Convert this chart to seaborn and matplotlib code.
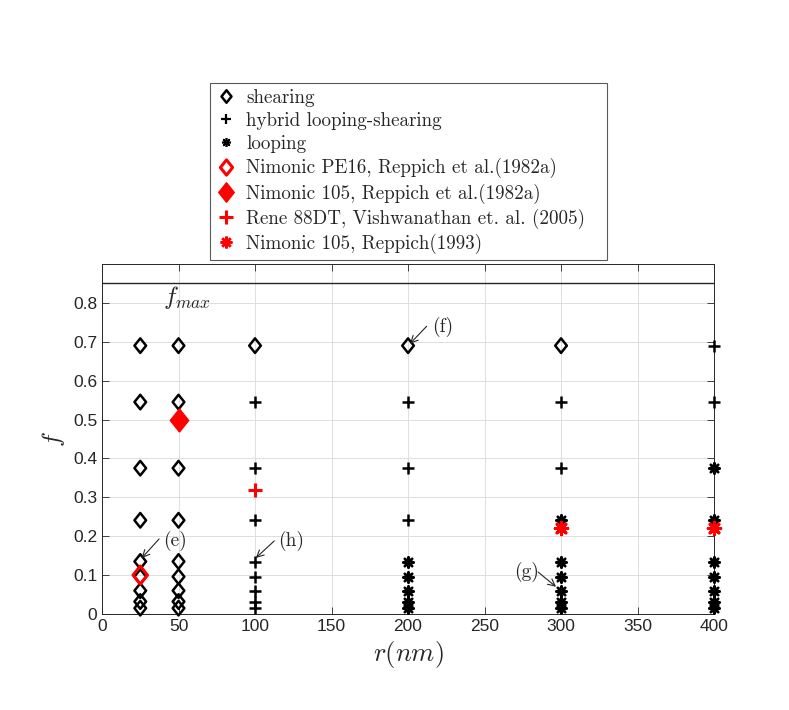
import numpy as np
import pandas as pd
import seaborn as sns
import matplotlib.pyplot as plt
from matplotlib.lines import Line2D
from matplotlib.path import Path

# f levels used in the simulations
f_levels = [0.015, 0.032, 0.06, 0.096, 0.135, 0.241, 0.375, 0.545, 0.69]

# simulation points per mechanism: (r, f)
shearing_r = [25] * 9 + [50] * 9 + [100, 200, 300]
shearing_f = f_levels + f_levels + [0.69, 0.69, 0.69]

hybrid_r = [100] * 8 + [200] * 3 + [300] * 2 + [400] * 2
hybrid_f = f_levels[:8] + [0.241, 0.375, 0.545] + [0.375, 0.545] + [0.545, 0.69]

looping_r = [200] * 5 + [300] * 6 + [400] * 7
looping_f = f_levels[:5] + f_levels[:6] + f_levels[:7]

# experimental points
pe16_r, pe16_f = [25], [0.1]
nim105_r, nim105_f = [50], [0.5]
rene_r, rene_f = [100], [0.32]
nim93_r, nim93_f = [300, 400], [0.22, 0.22]

f_max = 0.85

labels = ["shearing", "hybrid looping-shearing", "looping",
          "Nimonic PE16, Reppich et al.(1982a)",
          "Nimonic 105, Reppich et al.(1982a)",
          "Rene 88DT, Vishwanathan et. al. (2005)",
          "Nimonic 105, Reppich(1993)"]

rows = []
for lab, rr, ff in zip(labels,
                       [shearing_r, hybrid_r, looping_r, pe16_r, nim105_r, rene_r, nim93_r],
                       [shearing_f, hybrid_f, looping_f, pe16_f, nim105_f, rene_f, nim93_f]):
    for a, b in zip(rr, ff):
        rows.append({"r": a, "f": b, "group": lab})
df = pd.DataFrame(rows)

sns.set_style("ticks")
plt.rcParams['font.family'] = ['Liberation Sans', 'DejaVu Sans']
plt.rcParams['mathtext.fontset'] = 'cm'

fig = plt.figure(figsize=(7.89, 7.10), dpi=100)
ax = fig.add_axes([0.1293, 0.1352, 0.7757, 0.493])

# matlab-like diamond, a bit narrower than tall
diamond = Path([(0, 1), (0.8, 0), (0, -1), (-0.8, 0), (0, 1)],
               [Path.MOVETO, Path.LINETO, Path.LINETO, Path.LINETO, Path.CLOSEPOLY])
asterisk = (8, 2, 0)

styles = {
    labels[0]: dict(marker=diamond, s=110, facecolor='none', edgecolor='black', linewidth=1.8),
    labels[1]: dict(marker='+', s=70, color='black', linewidth=1.8),
    labels[2]: dict(marker=asterisk, s=55, color='black', linewidth=1.8),
    labels[3]: dict(marker=diamond, s=170, facecolor='none', edgecolor='red', linewidth=2.2),
    labels[4]: dict(marker=diamond, s=260, color='red', edgecolor='red'),
    labels[5]: dict(marker='+', s=100, color='red', linewidth=2.2),
    labels[6]: dict(marker=asterisk, s=80, color='red', linewidth=2.2),
}

for lab in labels:
    sub = df[df["group"] == lab]
    sns.scatterplot(data=sub, x="r", y="f", ax=ax, zorder=3, clip_on=False, **styles[lab])

leg_handles = [
    Line2D([], [], ls='none', marker=diamond, ms=9, mfc='none', mec='black', mew=1.8),
    Line2D([], [], ls='none', marker='+', ms=7, color='black', mew=1.6),
    Line2D([], [], ls='none', marker=asterisk, ms=6.5, color='black', mew=1.2),
    Line2D([], [], ls='none', marker=diamond, ms=11, mfc='none', mec='red', mew=2.2),
    Line2D([], [], ls='none', marker=diamond, ms=14, color='red'),
    Line2D([], [], ls='none', marker='+', ms=10, color='red', mew=2.2),
    Line2D([], [], ls='none', marker=asterisk, ms=8.5, color='red', mew=1.8),
]

ax.axhline(f_max, color='#262626', linewidth=1.0)
ax.text(40, 0.813, r'$f_{max}$', fontsize=18, va='center', ha='left')

# annotation labels and arrows (tail -> head)
ann = dict(arrowstyle='->,head_length=0.5,head_width=0.25', color='#262626',
           linewidth=0.8, shrinkA=0, shrinkB=0)
notes = [('(e)', (47.7, 0.188), (37.3, 0.193), (26.0, 0.144)),
         ('(h)', (123.5, 0.188), (112.6, 0.188), (100.5, 0.144)),
         ('(f)', (222.4, 0.738), (212.2, 0.740), (201.3, 0.695)),
         ('(g)', (277.5, 0.108), (285.0, 0.108), (296.7, 0.070))]
for txt, tpos, tail, head in notes:
    ax.text(tpos[0], tpos[1], txt, ha='center', va='center', fontsize=14, family='cmr10')
    ax.annotate('', xy=head, xytext=tail, arrowprops=ann)

ax.set_xlim(0, 400)
ax.set_ylim(0, 0.9)
ax.set_xticks(np.arange(0, 401, 50))
ax.set_yticks(np.arange(0, 0.81, 0.1))
ax.set_yticklabels(['0', '0.1', '0.2', '0.3', '0.4', '0.5', '0.6', '0.7', '0.8'])
ax.tick_params(direction='in', top=True, right=True, labelsize=12.5, length=5,
               width=0.6, color='#262626', labelcolor='#262626')
ax.grid(True, color='#dedede', linewidth=0.7)
for sp in ax.spines.values():
    sp.set_visible(True)
    sp.set_color('#262626')
    sp.set_linewidth(0.7)

ax.set_xlabel(r'$r(nm)$', fontsize=19, labelpad=4)
ax.set_ylabel(r'$f$', fontsize=18, labelpad=4)

leg = fig.legend(leg_handles, labels, loc='upper left', mode='expand',
                 bbox_to_anchor=(0.266, 0.637, 0.503, 0.246), borderaxespad=0,
                 frameon=True, fancybox=False,
                 edgecolor='#5a5a5a', framealpha=1, borderpad=0.3,
                 handletextpad=0.5, labelspacing=0.27, handlelength=1.1,
                 prop={'family': 'cmr10', 'size': 13.7})
leg.get_frame().set_linewidth(0.8)

fig.savefig('out.png', dpi=100)
